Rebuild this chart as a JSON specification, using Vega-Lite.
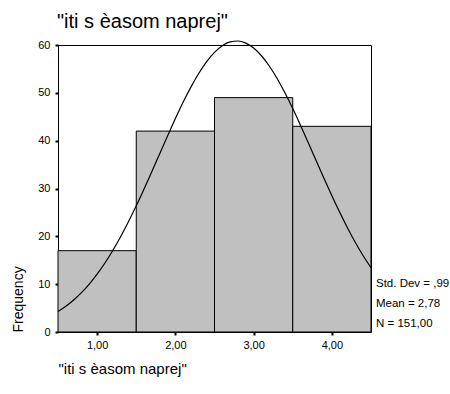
{
  "$schema": "https://vega.github.io/schema/vega-lite/v6.json",
  "autosize": "none",
  "width": 313,
  "height": 287,
  "padding": {"left": 58, "top": 45, "right": 79, "bottom": 62},
  "background": "white",
  "config": {
    "font": "Liberation Sans",
    "view": {"stroke": "black", "strokeWidth": 1},
    "axis": {
      "grid": false,
      "domainColor": "black",
      "tickColor": "black",
      "tickSize": 3,
      "tickWidth": 2,
      "labelColor": "black",
      "labelFontSize": 11,
      "labelFont": "Liberation Sans",
      "titleFont": "Liberation Sans",
      "titleFontWeight": "normal",
      "titleColor": "black"
    }
  },
  "title": {
    "text": "\"iti s èasom naprej\"",
    "anchor": "start",
    "frame": "group",
    "font": "Liberation Sans",
    "fontSize": 20,
    "fontWeight": "normal",
    "color": "black",
    "offset": 7,
    "dx": -1
  },
  "datasets": {
    "bins": [
      {"bin_start": 0.5, "bin_end": 1.5, "count": 17},
      {"bin_start": 1.5, "bin_end": 2.5, "count": 42},
      {"bin_start": 2.5, "bin_end": 3.5, "count": 49},
      {"bin_start": 3.5, "bin_end": 4.5, "count": 43}
    ],
    "normal": [
      {"value": 0.5, "density": 4.29},
      {"value": 0.6, "density": 5.39},
      {"value": 0.7, "density": 6.70},
      {"value": 0.8, "density": 8.24},
      {"value": 0.9, "density": 10.03},
      {"value": 1.0, "density": 12.09},
      {"value": 1.1, "density": 14.42},
      {"value": 1.2, "density": 17.03},
      {"value": 1.3, "density": 19.91},
      {"value": 1.4, "density": 23.03},
      {"value": 1.5, "density": 26.38},
      {"value": 1.6, "density": 29.91},
      {"value": 1.7, "density": 33.56},
      {"value": 1.8, "density": 37.28},
      {"value": 1.9, "density": 40.99},
      {"value": 2.0, "density": 44.61},
      {"value": 2.1, "density": 48.07},
      {"value": 2.2, "density": 51.25},
      {"value": 2.3, "density": 54.10},
      {"value": 2.4, "density": 56.53},
      {"value": 2.5, "density": 58.46},
      {"value": 2.6, "density": 59.85},
      {"value": 2.7, "density": 60.65},
      {"value": 2.8, "density": 60.84},
      {"value": 2.9, "density": 60.40},
      {"value": 3.0, "density": 59.37},
      {"value": 3.1, "density": 57.75},
      {"value": 3.2, "density": 55.61},
      {"value": 3.3, "density": 53.01},
      {"value": 3.4, "density": 50.01},
      {"value": 3.5, "density": 46.71},
      {"value": 3.6, "density": 43.18},
      {"value": 3.7, "density": 39.51},
      {"value": 3.8, "density": 35.79},
      {"value": 3.9, "density": 32.09},
      {"value": 4.0, "density": 28.48},
      {"value": 4.1, "density": 25.02},
      {"value": 4.2, "density": 21.75},
      {"value": 4.3, "density": 18.72},
      {"value": 4.4, "density": 15.95},
      {"value": 4.5, "density": 13.45}
    ]
  },
  "layer": [
    {
      "data": {"name": "bins"},
      "mark": {"type": "rect", "fill": "#c0c0c0", "stroke": "black", "strokeWidth": 1},
      "encoding": {
        "x": {
          "field": "bin_start",
          "type": "quantitative",
          "scale": {"domain": [0.5, 4.5], "nice": false, "zero": false},
          "axis": {
            "values": [1, 2, 3, 4],
            "labelExpr": "replace(format(datum.value, '.2f'), '.', ',')",
            "labelPadding": 4,
            "title": "\"iti s èasom naprej\"",
            "titleFontSize": 15,
            "titleAnchor": "start",
            "titleAlign": "left",
            "titlePadding": 11
          }
        },
        "x2": {"field": "bin_end"},
        "y": {
          "field": "count",
          "type": "quantitative",
          "scale": {"domain": [0, 60], "nice": false},
          "axis": {
            "values": [0, 10, 20, 30, 40, 50, 60],
            "labelPadding": 5,
            "title": "Frequency",
            "titleFontSize": 14,
            "titleAnchor": "start",
            "titlePadding": 12
          }
        },
        "y2": {"datum": 0}
      }
    },
    {
      "data": {"name": "normal"},
      "mark": {"type": "line", "color": "black", "strokeWidth": 1.2, "interpolate": "monotone", "clip": false},
      "encoding": {
        "x": {"field": "value", "type": "quantitative"},
        "y": {"field": "density", "type": "quantitative"}
      }
    },
    {
      "data": {"values": [{}]},
      "mark": {
        "type": "text",
        "text": ["Std. Dev = ,99", "Mean = 2,78", "N = 151,00"],
        "align": "left",
        "baseline": "middle",
        "lineHeight": 20,
        "fontSize": 11.5,
        "font": "Liberation Sans",
        "color": "black",
        "dx": 5,
        "clip": false
      },
      "encoding": {
        "x": {"datum": 4.5},
        "y": {"datum": 10.1}
      }
    }
  ]
}
